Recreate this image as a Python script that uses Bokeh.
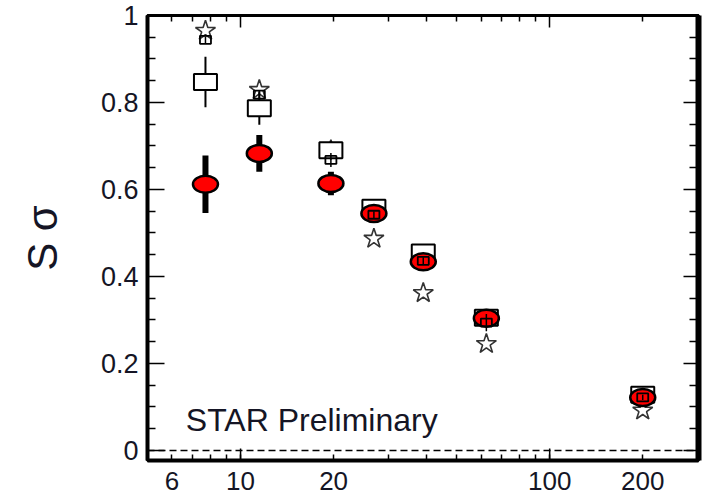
import math
from bokeh.plotting import figure
from bokeh.models import (LogAxis, LinearAxis, FixedTicker, Span, Label)
from bokeh.embed import file_html
from bokeh.resources import INLINE

# ---- data ----
energies = [7.7, 11.5, 19.6, 27, 39, 62.4, 200]
data_vals = [0.612, 0.683, 0.614, 0.545, 0.434, 0.304, 0.122]
data_err = [0.066, 0.042, 0.027, 0.010, 0.008, 0.008, 0.006]
box_vals = [0.847, 0.787, 0.690, 0.558, 0.455, 0.305, 0.128]
box_err = [0.058, 0.038, 0.021, 0.006, 0.006, 0.006, 0.005]
small_vals = [0.944, 0.818, 0.668, 0.542, 0.436, 0.294, 0.122]
small_err = [0.008, 0.010, 0.016, 0.008, 0.008, 0.020, 0.006]
star_vals = [0.965, 0.829, 0.690, 0.487, 0.362, 0.245, 0.092]

xtick_vals = [6, 10, 20, 100, 200]
xtick_labels = ["6", "10", "20", "100", "200"]
xminor_vals = [5, 7, 8, 9, 30, 40, 50, 60, 70, 80, 90, 300]
xdecades = [10, 100]
xtop_minor = [6, 7, 8, 9, 20, 30, 40, 50, 60, 70, 80, 90, 200, 300]
ytick_vals = [0, 0.2, 0.4, 0.6, 0.8, 1.0]
ytick_labels = ["0", "0.2", "0.4", "0.6", "0.8", "1"]
yminor_vals = [0.05, 0.1, 0.15, 0.25, 0.3, 0.35, 0.45, 0.5, 0.55,
               0.65, 0.7, 0.75, 0.85, 0.9, 0.95]

FONT = "Liberation Sans"
TXT = "#151525"

p = figure(frame_width=551, frame_height=445, x_axis_type="log",
           x_range=(5, 303), y_range=(-0.023, 1.0),
           output_backend="svg", toolbar_location=None,
           min_border_left=147, min_border_right=6, min_border_top=15, min_border_bottom=36,
           background_fill_color="white", border_fill_color="white")
p.xgrid.visible = False
p.ygrid.visible = False
p.outline_line_color = "black"
p.outline_line_width = 3

# bottom axis
xa = p.xaxis[0]
xa.ticker = FixedTicker(ticks=xtick_vals, minor_ticks=xminor_vals)
xa.major_label_overrides = {v: l for v, l in zip(xtick_vals, xtick_labels)}
xa.major_tick_in = 6
xa.major_tick_out = 0
xa.minor_tick_in = 6
xa.minor_tick_out = 0
xa.axis_line_width = 4
xa.major_tick_line_width = 1.5
xa.minor_tick_line_width = 1.5
xa.major_label_text_font = FONT
xa.major_label_text_font_size = "26px"
xa.major_label_text_color = TXT
xa.major_label_standoff = 11

# left axis
ya = p.yaxis[0]
ya.ticker = FixedTicker(ticks=ytick_vals, minor_ticks=yminor_vals)
ya.major_label_overrides = {v: l for v, l in zip(ytick_vals, ytick_labels)}
ya.major_tick_in = 17
ya.major_tick_out = 0
ya.minor_tick_in = 8
ya.minor_tick_out = 0
ya.axis_line_width = 4
ya.major_tick_line_width = 1.5
ya.minor_tick_line_width = 1.5
ya.major_label_text_font = FONT
ya.major_label_text_font_size = "27px"
ya.major_label_text_color = TXT
ya.major_label_standoff = 9
ya.axis_label = "S σ"
ya.axis_label_text_font = FONT
ya.axis_label_text_font_size = "42px"
ya.axis_label_text_font_style = "normal"
ya.axis_label_text_color = TXT
ya.axis_label_standoff = 32

# top axis (ticks only)
ta = LogAxis(ticker=FixedTicker(ticks=xdecades, minor_ticks=xtop_minor),
             major_tick_in=12, major_tick_out=0, minor_tick_in=6, minor_tick_out=0,
             axis_line_width=3, major_tick_line_width=1.5, minor_tick_line_width=1.5,
             major_label_text_font_size="6px", major_label_text_alpha=0,
             major_label_standoff=0)
p.add_layout(ta, "above")

# right axis (ticks only)
ra = LinearAxis(ticker=FixedTicker(ticks=ytick_vals, minor_ticks=yminor_vals),
                major_tick_in=15, major_tick_out=0, minor_tick_in=9, minor_tick_out=0,
                axis_line_width=6, major_tick_line_width=1.5, minor_tick_line_width=1.5,
                major_label_text_font_size="6px", major_label_text_alpha=0,
                major_label_standoff=0)
p.add_layout(ra, "right")

# long decade ticks on the bottom axis
p.scatter(x=xdecades, y=[p.y_range.start] * len(xdecades), marker="dash", angle=math.pi / 2,
          size=24, line_color="black", line_width=1.5)

# zero line
p.add_layout(Span(location=0, dimension="width", line_color="black",
                  line_dash="7 4", line_width=1.5))

# stars
p.scatter(x=energies, y=star_vals, marker="star", size=21,
          fill_color="white", line_color="#333333", line_width=1.6)

# big open squares with error bars
p.segment(x0=energies, y0=[v - e for v, e in zip(box_vals, box_err)],
          x1=energies, y1=[v + e for v, e in zip(box_vals, box_err)],
          line_color="black", line_width=2)
p.rect(x=energies, y=box_vals, width=23, height=16, width_units="screen", height_units="screen",
       fill_color="white", line_color="black", line_width=2)

# data: red ellipses with thick error bars
p.segment(x0=energies, y0=[v - e for v, e in zip(data_vals, data_err)],
          x1=energies, y1=[v + e for v, e in zip(data_vals, data_err)],
          line_color="black", line_width=6)
p.ellipse(x=energies, y=data_vals, width=25, height=17, width_units="screen", height_units="screen",
          fill_color="#ff0000", line_color="black", line_width=2.5)

# small open squares
p.segment(x0=energies, y0=[v - e for v, e in zip(small_vals, small_err)],
          x1=energies, y1=[v + e for v, e in zip(small_vals, small_err)],
          line_color="black", line_width=1.5)
p.rect(x=energies, y=small_vals, width=11, height=8, width_units="screen", height_units="screen",
       fill_color=None, line_color="black", line_width=1.8)

p.add_layout(Label(x=6.65, y=0.028, text="STAR Preliminary", text_font=FONT,
                   text_font_size="32px", text_color=TXT))

open("out.html", "w").write(file_html(p, INLINE))
